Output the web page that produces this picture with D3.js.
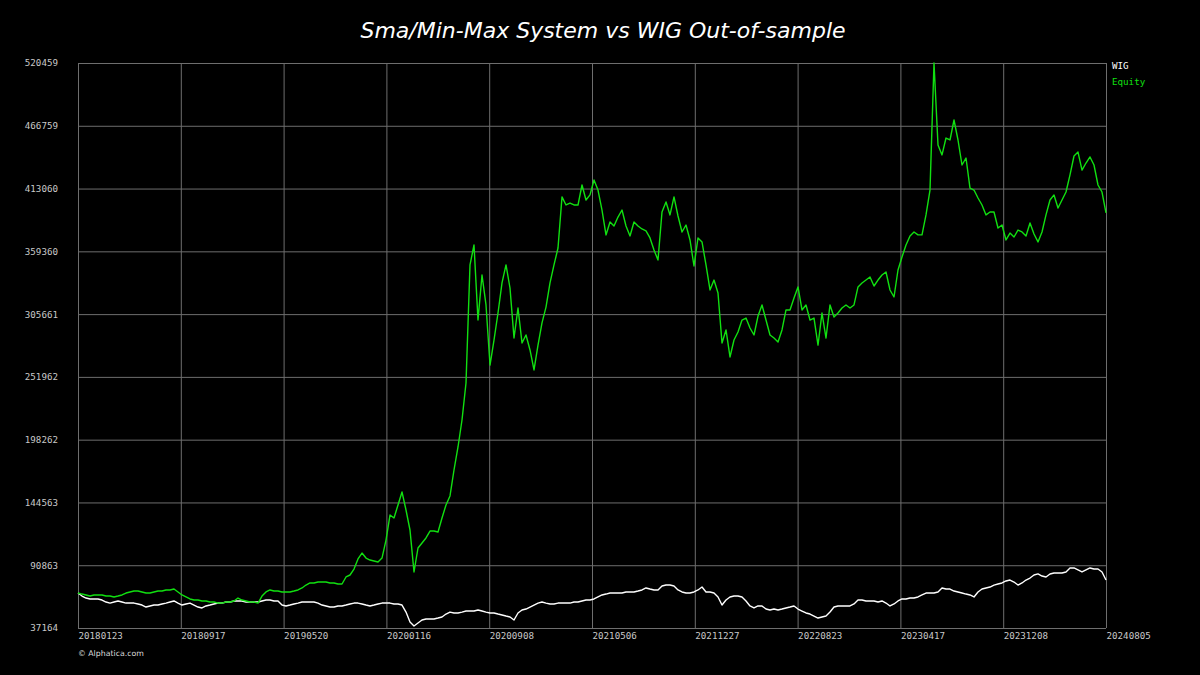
<!DOCTYPE html>
<html>
<head>
<meta charset="utf-8">
<script src="https://cdn.jsdelivr.net/npm/d3@7"></script>
<style>
  html, body { margin: 0; padding: 0; background: #000; }
  svg { display: block; }
</style>
</head>
<body>
<div id="chart"></div>
<script>
// date labels on the x axis (equally spaced over the trading-day index)
const dateLabels = ['20180123', '20180917', '20190520', '20200116', '20200908', '20210506',
  '20211227', '20220823', '20230417', '20231208', '20240805'];

const yTickValues = [37164, 90863, 144563, 198262, 251962, 305661, 359360, 413060, 466759, 520459];

// equity curve, sampled evenly over the period
const equity = [
  67100, 66200, 65400, 64500, 65400, 65400, 65400, 64500, 64500, 63700,
  64500, 65400, 67100, 68000, 68800, 68800, 68000, 67100, 67100, 68000,
  68800, 68800, 69700, 69700, 70500, 68000, 65400, 63700, 62000, 61100,
  61100, 60300, 60300, 59400, 59400, 58500, 58500, 59400, 59400, 60300,
  62800, 61100, 60300, 59400, 59400, 58500, 64500, 68000, 69700, 68800,
  68800, 68000, 68000, 68000, 68800, 69700, 71400, 73900, 75700, 75700,
  76500, 76500, 76500, 75700, 75700, 74800, 74800, 80800, 82500, 87600,
  96200, 101300, 97000, 95300, 94500, 93600, 97000, 112400, 133800, 131300,
  142400, 153500, 138100, 121000, 85100, 105600, 109900, 114200, 120100, 120100,
  119300, 131300, 142400, 150100, 172300, 192000, 215100, 246700, 347700, 364800,
  300600, 339100, 313500, 262100, 283500, 306600, 332300, 347700, 328000, 285200,
  310900, 281000, 287800, 275000, 257900, 279200, 298100, 311700, 332300, 347700,
  362200, 405900, 399000, 400700, 399000, 399000, 416100, 403300, 407600, 420400,
  411800, 394700, 373400, 384500, 381000, 388700, 394700, 381000, 372500, 384500,
  381000, 378500, 376800, 370800, 360500, 351900, 393000, 401600, 390500, 405900,
  389600, 375900, 381900, 369100, 346800, 370800, 367400, 347700, 326300, 334800,
  323700, 281000, 292100, 269000, 283500, 290400, 300600, 302300, 293800, 287800,
  304000, 313500, 300600, 287800, 285200, 281800, 292100, 309200, 309200, 319400,
  328900, 309200, 313500, 300600, 302300, 279200, 306600, 285200, 313500, 303200,
  306600, 310900, 313500, 310900, 313500, 328900, 332300, 334800, 337400, 329700,
  334800, 339100, 341700, 326300, 320300, 343400, 354500, 364800, 372500, 375900,
  373400, 373400, 390500, 411800, 520459, 450300, 441800, 456300, 454600, 471700,
  454600, 433200, 439200, 413500, 411800, 405000, 399000, 390500, 393000, 393000,
  379300, 381900, 369100, 375000, 371600, 377600, 375900, 372500, 383600, 374200,
  367400, 375900, 390500, 403300, 407600, 396400, 403300, 410100, 424700, 440900,
  444300, 428900, 434900, 440100, 433200, 416100, 410100, 392200
];

// WIG index, same sampling
const wig = [
  67100, 64500, 62800, 62000, 62000, 62000, 61100, 59400, 58500, 59400,
  60300, 59400, 58500, 58500, 58500, 57700, 56800, 55100, 56000, 56800,
  56800, 57700, 58500, 59400, 60300, 58500, 56800, 57700, 58500, 56800,
  55100, 54300, 56000, 56800, 57700, 58500, 58500, 59400, 59400, 60300,
  60300, 60300, 59400, 59400, 59400, 59400, 60300, 61100, 61100, 60300,
  60300, 56800, 56000, 56800, 57700, 58500, 59400, 59400, 59400, 59400,
  58500, 56800, 56000, 55100, 55100, 56000, 56000, 56800, 57700, 58500,
  58500, 57700, 56800, 56000, 56800, 57700, 58500, 58500, 58500, 57700,
  57700, 56800, 50800, 42300, 38900, 41400, 44000, 44900, 44900, 44900,
  45700, 46600, 49100, 50800, 50000, 50000, 50800, 51700, 51700, 51700,
  52600, 51700, 50800, 50000, 50000, 49100, 48300, 47400, 46600, 44000,
  50000, 52600, 53400, 55100, 56800, 58500, 59400, 58500, 57700, 57700,
  58500, 58500, 58500, 58500, 59400, 59400, 60300, 61100, 61100, 62000,
  63700, 65400, 66200, 67100, 67100, 67100, 67100, 68000, 68000, 68000,
  68800, 69700, 71400, 70500, 69700, 69700, 73100, 73900, 73900, 73100,
  69700, 68000, 67100, 67100, 68000, 69700, 72200, 68000, 68000, 67100,
  63700, 56800, 61100, 63700, 64500, 64500, 63700, 60300, 56000, 54300,
  56000, 56000, 53400, 52600, 53400, 52600, 53400, 54300, 55100, 56000,
  53400, 51700, 50000, 49100, 47400, 45700, 46600, 47400, 50800, 55100,
  56000, 56000, 56000, 56000, 57700, 61100, 61100, 60300, 60300, 60300,
  59400, 60300, 58500, 56000, 57700, 60300, 62000, 62000, 62800, 62800,
  63700, 65400, 67100, 67100, 67100, 68000, 71400, 70500, 70500, 68800,
  68000, 67100, 66200, 65400, 63700, 68000, 70500, 71400, 72200, 73900,
  74800, 75700, 77400, 78200, 76500, 73900, 75700, 78200, 79900, 82500,
  83400, 81600, 80800, 83400, 84200, 84200, 84200, 85100, 88500, 88500,
  86800, 85100, 86800, 88500, 87600, 87600, 85100, 78200
];

const series = [
  { name: 'WIG', values: wig, color: '#ffffff' },
  { name: 'Equity', values: equity, color: '#11e011' }
];

const W = 1200, H = 675;
const margin = { top: 63, right: 94, bottom: 47, left: 78 };
const width = W - margin.left - margin.right;
const height = H - margin.top - margin.bottom;
const mono = '"DejaVu Sans Mono", "Liberation Mono", monospace';

const svg = d3.select('#chart')
  .append('svg')
  .attr('width', W)
  .attr('height', H)
  .style('background', '#000');

svg.append('text')
  .attr('x', 603)
  .attr('y', 38)
  .attr('text-anchor', 'middle')
  .attr('fill', '#fff')
  .style('font-family', '"DejaVu Sans", sans-serif')
  .style('font-style', 'italic')
  .style('font-size', '22px')
  .text('Sma/Min-Max System vs WIG Out-of-sample');

const g = svg.append('g')
  .attr('transform', `translate(${margin.left},${margin.top})`);

const n = equity.length;
const x = d3.scaleLinear().domain([0, n - 1]).range([0, width]);
const y = d3.scaleLinear().domain([yTickValues[0], yTickValues[yTickValues.length - 1]]).range([height, 0]);

const xTicks = dateLabels.map((d, i) => (i * (n - 1)) / (dateLabels.length - 1));

// grid
g.append('g')
  .attr('class', 'x axis-grid')
  .attr('transform', `translate(0,${height})`)
  .call(d3.axisBottom(x).tickValues(xTicks).tickSize(-height).tickFormat(''))
  .call((s) => s.select('.domain').remove())
  .selectAll('line')
  .attr('stroke', '#6e6e6e')
  .attr('stroke-width', 1);

g.append('g')
  .attr('class', 'y axis-grid')
  .call(d3.axisLeft(y).tickValues(yTickValues).tickSize(-width).tickFormat(''))
  .call((s) => s.select('.domain').remove())
  .selectAll('line')
  .attr('stroke', '#6e6e6e')
  .attr('stroke-width', 1);

// axis labels
const yAxis = g.append('g')
  .call(d3.axisLeft(y).tickValues(yTickValues).tickSize(0).tickPadding(20).tickFormat((d) => String(d)));
yAxis.select('.domain').remove();
yAxis.selectAll('text')
  .attr('fill', '#c8c8c8')
  .style('font-family', mono)
  .style('font-size', '9.2px');

const xAxis = g.append('g')
  .attr('transform', `translate(0,${height})`)
  .call(d3.axisBottom(x).tickValues(xTicks).tickSize(0).tickPadding(4).tickFormat((d, i) => dateLabels[i]));
xAxis.select('.domain').remove();
xAxis.selectAll('text')
  .attr('text-anchor', 'start')
  .attr('fill', '#c8c8c8')
  .style('font-family', mono)
  .style('font-size', '9.2px');

// lines
const line = d3.line()
  .x((d, i) => x(i))
  .y((d) => y(d));

g.selectAll('path.series')
  .data(series)
  .enter()
  .append('path')
  .attr('class', 'series')
  .attr('fill', 'none')
  .attr('stroke', (d) => d.color)
  .attr('stroke-width', 1.4)
  .attr('stroke-linejoin', 'round')
  .attr('d', (d) => line(d.values));

// legend
svg.selectAll('text.legend')
  .data(series)
  .enter()
  .append('text')
  .attr('class', 'legend')
  .attr('x', W - margin.right + 6)
  .attr('y', (d, i) => margin.top + 5.5 + i * 16.5)
  .attr('fill', (d) => d.color)
  .style('font-family', mono)
  .style('font-size', '9.2px')
  .text((d) => d.name);

svg.append('text')
  .attr('x', margin.left)
  .attr('y', 656)
  .attr('fill', '#ddd')
  .style('font-family', '"DejaVu Sans", sans-serif')
  .style('font-size', '7.8px')
  .text('© Alphatica.com');
</script>
</body>
</html>
